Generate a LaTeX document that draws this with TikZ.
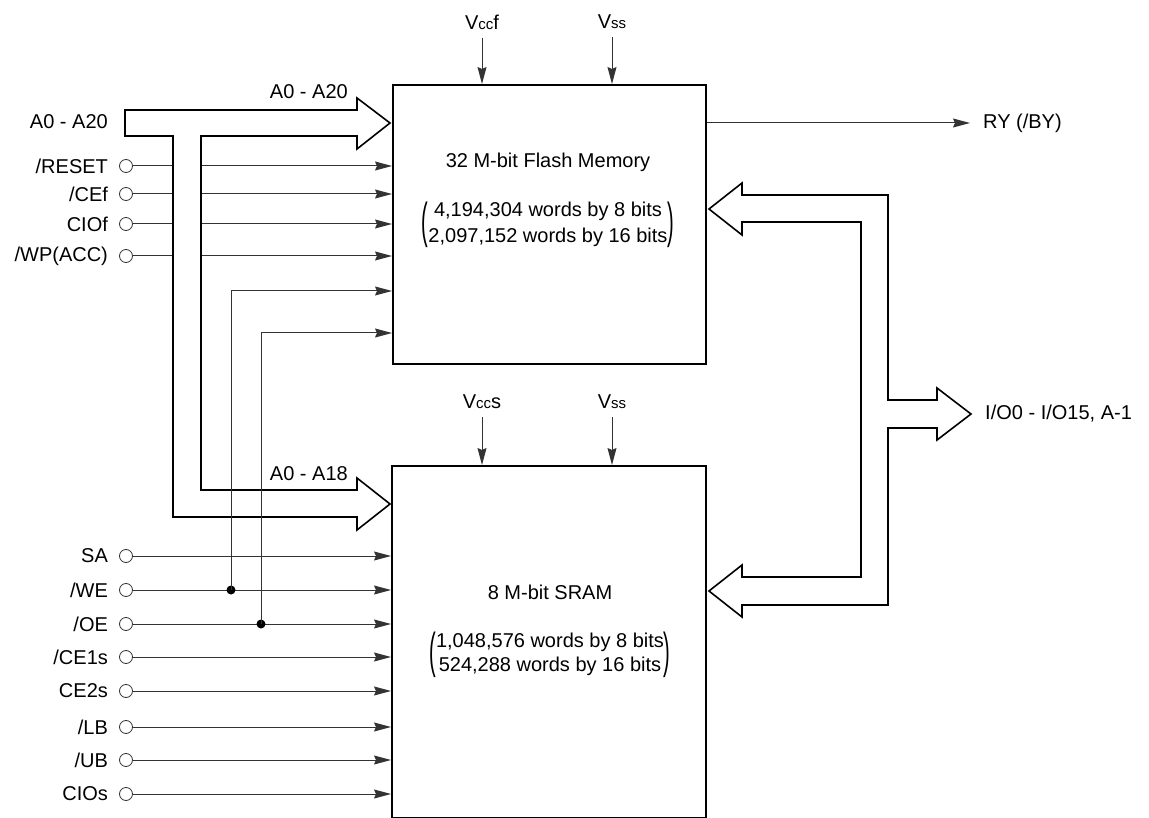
\documentclass[tikz,border=0pt]{standalone}
\usepackage{fontspec}
\usepackage{graphicx}
\setmainfont{Liberation Sans}
\usetikzlibrary{arrows.meta}

\tikzset{
  chip/.style={draw, line width=2.4pt, anchor=north west, inner sep=0pt},
  pin/.style={circle, draw=black!80, line width=0.8pt, minimum size=13pt, inner sep=0pt},
  sig/.style={draw=black!80, line width=1pt, -{Stealth[length=17pt,width=9pt,inset=2pt]}},
  bus/.style={draw, line width=1.6pt, fill=white, line join=miter},
  dot/.style={circle, fill, minimum size=9pt, inner sep=0pt},
  lbl/.style={inner sep=0pt, font=\fontsize{20}{24}\selectfont},
  pinlbl/.style={label={[lbl, label distance=11pt]left:#1}},
}
\newcommand{\smallsub}[1]{{\fontsize{15}{18}\selectfont #1}}
\newcommand{\sizeparen}[1]{$\vcenter{\hbox{\scalebox{1}[2.45]{(}}}\vcenter{\hbox{#1}}\vcenter{\hbox{\scalebox{1}[2.45]{)}}}$}

\begin{document}
\begin{tikzpicture}[x=1pt, y=-1pt]
\useasboundingbox (0,0) rectangle (1149,818);

% the two chips
\node[chip, minimum width=313pt, minimum height=279pt] (flash) at (392,84){};
\node[chip, minimum width=314pt, minimum height=352pt] (sram) at (391,465){};

\node[lbl] (flashname) at (548,162){32 M-bit Flash Memory};
\node[lbl] (flashsize) at (548,225){\sizeparen{\begin{tabular}{@{}c@{}}4,194,304 words by 8 bits\\[2pt]2,097,152 words by 16 bits\end{tabular}}};
\node[lbl] (sramname) at (550,592){8 M-bit SRAM};
\node[lbl] (sramsize) at (550,655){\sizeparen{\begin{tabular}{@{}c@{}}1,048,576 words by 8 bits\\524,288 words by 16 bits\end{tabular}}};

% supplies
\node[lbl] (vccf) at (482,22){V\smallsub{cc}f};
\node[lbl] (vssf) at (612,22){V\smallsub{ss}};
\node[lbl] (vccs) at (482,402){V\smallsub{cc}s};
\node[lbl] (vsss) at (612,402){V\smallsub{ss}};
\draw[sig, shorten <=8pt](vccf.south) -- (vccf.south |- flash.north);
\draw[sig, shorten <=8pt](vssf.south) -- (vssf.south |- flash.north);
\draw[sig, shorten <=8pt](vccs.south) -- (vccs.south |- sram.north);
\draw[sig, shorten <=8pt](vsss.south) -- (vsss.south |- sram.north);

% flash control inputs
\node[pin, pinlbl=/RESET] (reset) at (126,166){};
\node[pin, pinlbl=/CEf] (cef) at (126,194){};
\node[pin, pinlbl=CIOf] (ciof) at (126,224){};
\node[pin, pinlbl=/WP(ACC)] (wp) at (126,256){};
\draw[sig](reset.east) -- (reset -| flash.west);
\draw[sig](cef.east) -- (cef -| flash.west);
\draw[sig](ciof.east) -- (ciof -| flash.west);
\draw[sig](wp.east) -- (wp -| flash.west);

% address bus
\draw[bus] (125,110) -- (357,110) -- (357,98) -- (390,123) -- (357,149) -- (357,136)
  -- (201,136) -- (201,490) -- (357,490) -- (357,478) -- (390,504) -- (357,530)
  -- (357,517) -- (173,517) -- (173,136) -- (125,136) -- cycle;
\node[lbl, anchor=base east] (addr) at (108,129){A0 - A20};
\node[lbl, anchor=base east] (addrf) at (348,99){A0 - A20};
\node[lbl, anchor=base east] (addrs) at (348,480){A0 - A18};

% sram control inputs
\node[pin, pinlbl=SA] (sa) at (126,556){};
\node[pin, pinlbl=/WE] (we) at (126,590){};
\node[pin, pinlbl=/OE] (oe) at (126,624){};
\node[pin, pinlbl=/CE1s] (ceone) at (126,657){};
\node[pin, pinlbl=CE2s] (cetwo) at (126,691){};
\node[pin, pinlbl=/LB] (lb) at (126,727){};
\node[pin, pinlbl=/UB] (ub) at (126,760){};
\node[pin, pinlbl=CIOs] (cios) at (126,794){};
\draw[sig](sa.east) -- (sa -| sram.west);
\draw[sig](we.east) -- (we -| sram.west);
\draw[sig](oe.east) -- (oe -| sram.west);
\draw[sig](ceone.east) -- (ceone -| sram.west);
\draw[sig](cetwo.east) -- (cetwo -| sram.west);
\draw[sig](lb.east) -- (lb -| sram.west);
\draw[sig](ub.east) -- (ub -| sram.west);
\draw[sig](cios.east) -- (cios -| sram.west);

% /WE and /OE shared with the flash
\node[dot] (wedot) at (231,590){};
\node[dot] (oedot) at (261,624){};
\coordinate (wef) at (392,291);
\coordinate (oef) at (392,333);
\draw[sig](wedot.center) |- (wef);
\draw[sig](oedot.center) |- (oef);

% ready/busy
\node[lbl, anchor=west] (ry) at (983,123){RY (/BY)};
\draw[sig](flash.east |- ry) -- ([xshift=-13pt]ry.west);

% data bus
\draw[bus] (709,209) -- (742,183) -- (742,195) -- (888,195) -- (888,400) -- (937,400)
  -- (937,388) -- (971,414) -- (937,440) -- (937,428) -- (888,428) -- (888,605)
  -- (742,605) -- (742,617) -- (709,591) -- (742,565) -- (742,577) -- (861,577)
  -- (861,222) -- (742,222) -- (742,235) -- cycle;
\node[lbl, anchor=west] (io) at (985,414){I/O0 - I/O15, A-1};
\end{tikzpicture}
\end{document}
